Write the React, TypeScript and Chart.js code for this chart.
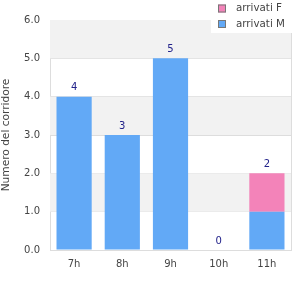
import React, { useEffect, useRef } from "react";
import { Chart, registerables } from "chart.js";

Chart.register(...registerables);

const categories = ["7h", "8h", "9h", "10h", "11h"];
const arrivatiM = [4, 3, 5, 0, 1];
const arrivatiF = [0, 0, 0, 0, 1];
const yTicks = [0, 1, 2, 3, 4, 5, 6];

const BLUE = "#62a9f6";
const PINK = "#f383b9";
const FONT = "'DejaVu Sans', sans-serif";

const bandsPlugin = {
  id: "bands",
  beforeDatasetsDraw(chart: any) {
    const { ctx, chartArea } = chart;
    const y = chart.scales.y;
    ctx.save();
    ctx.fillStyle = "#f2f2f2";
    for (let i = 0; i < yTicks.length - 1; i++) {
      if (i % 2 === 1) {
        const t = y.getPixelForValue(yTicks[i + 1]);
        const b = y.getPixelForValue(yTicks[i]);
        ctx.fillRect(chartArea.left, t, chartArea.right - chartArea.left, b - t);
      }
    }
    ctx.restore();
  },
};

const extrasPlugin = {
  id: "extras",
  afterDatasetsDraw(chart: any) {
    const { ctx, chartArea } = chart;
    const y = chart.scales.y;
    const x = chart.scales.x;
    ctx.save();
    // right border
    ctx.strokeStyle = "#dddddd";
    ctx.lineWidth = 1;
    ctx.beginPath();
    ctx.moveTo(Math.round(chartArea.right) + 0.5, chartArea.top);
    ctx.lineTo(Math.round(chartArea.right) + 0.5, chartArea.bottom);
    ctx.stroke();
    // value labels
    ctx.fillStyle = "#22228a";
    ctx.font = "10px " + FONT;
    ctx.textAlign = "center";
    ctx.textBaseline = "middle";
    categories.forEach((_, i) => {
      const total = arrivatiM[i] + arrivatiF[i];
      const px = x.getPixelForValue(i);
      const py = y.getPixelForValue(total);
      ctx.fillText(String(total), px, py - 9);
    });
    // legend
    ctx.fillStyle = "#ffffff";
    ctx.fillRect(211, 0, 82, 33);
    const items = [
      { label: "arrivati F", color: PINK },
      { label: "arrivati M", color: BLUE },
    ];
    ctx.font = "10.3px " + FONT;
    items.forEach((it, k) => {
      const cy = 8.5 + k * 15.5;
      ctx.fillStyle = it.color;
      ctx.fillRect(218, cy - 4, 8, 8);
      ctx.strokeStyle = "#777777";
      ctx.strokeRect(218.5, cy - 3.5, 7, 7);
      ctx.fillStyle = "#444444";
      ctx.textAlign = "left";
      ctx.fillText(it.label, 236, cy);
    });
    ctx.restore();
  },
};

export default function App() {
  const ref = useRef<HTMLCanvasElement | null>(null);
  useEffect(() => {
    if (!ref.current) return;
    const chart = new Chart(ref.current, {
      type: "bar",
      data: {
        labels: categories,
        datasets: [
          { label: "arrivati M", data: arrivatiM, backgroundColor: BLUE, borderWidth: 0 },
          { label: "arrivati F", data: arrivatiF, backgroundColor: PINK, borderWidth: 0 },
        ],
      },
      options: {
        animation: false,
        responsive: false,
        maintainAspectRatio: false,
        layout: { padding: { top: 20, right: 9, left: 0, bottom: 0 } },
        plugins: { legend: { display: false }, tooltip: { enabled: false } },
        datasets: { bar: { categoryPercentage: 1, barPercentage: 0.73 } },
        scales: {
          x: {
            stacked: true,
            grid: { display: false, drawTicks: false },
            border: { color: "#dddddd" },
            ticks: { color: "#444444", font: { family: FONT, size: 10 }, padding: 8 },
            afterFit(s: any) { s.height = 50; },
          },
          y: {
            stacked: true,
            min: 0,
            max: 6,
            grid: { color: "#dddddd", drawTicks: false },
            border: { color: "#dddddd" },
            ticks: {
              stepSize: 1,
              color: "#444444",
              font: { family: FONT, size: 10 },
              padding: 10,
              callback: (v: any) => Number(v).toFixed(1),
            },
            title: {
              display: true,
              text: "Numero del corridore",
              color: "#444444",
              font: { family: FONT, size: 10.6 },
              padding: { top: 0, bottom: 0 },
            },
            afterFit(s: any) { s.width = 50; },
          },
        },
      },
      plugins: [bandsPlugin, extrasPlugin],
    });
    return () => chart.destroy();
  }, []);
  return (
    <div style={{ position: "fixed", left: 0, top: 0, width: 300, height: 300, background: "#fff" }}>
      <canvas ref={ref} width={300} height={300} style={{ width: 300, height: 300 }} />
    </div>
  );
}
